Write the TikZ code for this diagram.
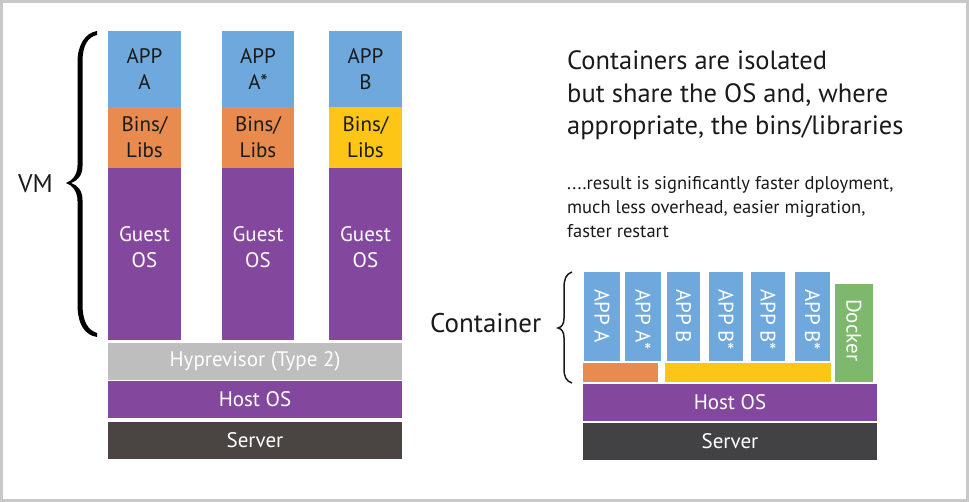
\documentclass[tikz,border=0pt]{standalone}
\usepackage{fontspec}
\setmainfont{PT Sans}
\definecolor{appblue}{HTML}{6FA8DC}
\definecolor{binorange}{HTML}{E98B4E}
\definecolor{binyellow}{HTML}{FDC616}
\definecolor{ospurple}{HTML}{83489D}
\definecolor{hypgray}{HTML}{BEBEBE}
\definecolor{srvleft}{HTML}{4A4542}
\definecolor{srvright}{HTML}{424144}
\definecolor{dockgreen}{HTML}{7DB86C}
\definecolor{framegray}{HTML}{C8C8C8}
\definecolor{inkdark}{HTML}{1A1A1A}
\begin{document}
\begin{tikzpicture}[x=1pt,y=-1pt,
  box/.style={anchor=north west, inner sep=0pt, outer sep=0pt, align=center},
  lbl/.style={font=\fontsize{21}{26}\selectfont, align=center, inner sep=0pt},
  rlbl/.style={font=\fontsize{21}{24}\selectfont, inner sep=0pt, rotate=-90},
  bigtxt/.style={font=\fontsize{26.5}{33}\selectfont, anchor=base west, inner sep=0pt, text=inkdark},
  smalltxt/.style={font=\fontsize{18.5}{24}\selectfont, anchor=base west, inner sep=0pt, text=inkdark},
]
\useasboundingbox (0,0) rectangle (969,502);
\fill[white] (0,0) rectangle (969,502);
\draw[line width=3pt, framegray] (1.5,1.5) rectangle (967.5,500.5);

% ---------- left: VM stack ----------
\node[box, fill=appblue, minimum width=73pt, minimum height=76pt] (appA) at (108,31) {};
\node[box, fill=appblue, minimum width=72pt, minimum height=76pt] (appAs) at (222,31) {};
\node[box, fill=appblue, minimum width=73pt, minimum height=76pt] (appB) at (329,31) {};
\node[lbl, text=inkdark] (tappA) at (appA.center) {APP\\A};
\node[lbl, text=inkdark] (tappAs) at (appAs.center) {APP\\A*};
\node[lbl, text=inkdark] (tappB) at (appB.center) {APP\\B};

\node[box, fill=binorange, minimum width=73pt, minimum height=61pt] (binA) at (108,107) {};
\node[box, fill=binorange, minimum width=72pt, minimum height=61pt] (binAs) at (222,107) {};
\node[box, fill=binyellow, minimum width=73pt, minimum height=61pt] (binB) at (329,107) {};
\node[lbl, text=inkdark] (tbinA) at (binA.center) {Bins/\\Libs};
\node[lbl, text=inkdark] (tbinAs) at (binAs.center) {Bins/\\Libs};
\node[lbl, text=inkdark] (tbinB) at (binB.center) {Bins/\\Libs};

\node[box, fill=ospurple, minimum width=73pt, minimum height=172pt] (gosA) at (108,168) {};
\node[box, fill=ospurple, minimum width=72pt, minimum height=172pt] (gosAs) at (222,168) {};
\node[box, fill=ospurple, minimum width=73pt, minimum height=172pt] (gosB) at (329,168) {};
\node[lbl, text=white, yshift=7pt] (tgosA) at (gosA.center) {Guest\\OS};
\node[lbl, text=white, yshift=7pt] (tgosAs) at (gosAs.center) {Guest\\OS};
\node[lbl, text=white, yshift=7pt] (tgosB) at (gosB.center) {Guest\\OS};

\node[box, fill=hypgray, minimum width=294pt, minimum height=37pt] (hyp) at (108,343) {};
\node[lbl, text=white] (thyp) at (hyp.center) {Hyprevisor (Type 2)};
\node[box, fill=ospurple, minimum width=294pt, minimum height=37pt] (hostL) at (108,381) {};
\node[lbl, text=white] (thostL) at (hostL.center) {Host OS};
\node[box, fill=srvleft, minimum width=294pt, minimum height=37pt] (srvL) at (108,422) {};
\node[lbl, text=white] (tsrvL) at (srvL.center) {Server};

% VM brace
\fill[black] (97,31) .. controls (85,33) and (77.5,45) .. (77.5,62)
  -- (77.5,165) .. controls (77.5,175) and (72,181) .. (66,183)
  .. controls (72,185) and (77.5,191) .. (77.5,201)
  -- (77.5,304) .. controls (77.5,325) and (85,335) .. (97,337)
  -- (97,333) .. controls (88,330) and (82.5,322) .. (82.5,304)
  -- (82.5,200) .. controls (82.5,190) and (77,185) .. (71,183)
  .. controls (77,181) and (82.5,176) .. (82.5,166)
  -- (82.5,62) .. controls (82.5,45) and (88,37) .. (97,35) -- cycle;
\node[font=\fontsize{25.5}{28}\selectfont, anchor=base west, inner sep=0pt, text=inkdark] (vm) at (18,193) {VM};

% ---------- right: containers ----------
\node[bigtxt] (h1) at (567,70) {Containers are isolated};
\node[bigtxt] (h2) at (567,102.5) {but share the OS and, where};
\node[bigtxt] (h3) at (567,135) {appropriate, the bins/libraries};
\node[smalltxt] (s1) at (567,190) {....result is significantly faster dployment,};
\node[smalltxt] (s2) at (567,214) {much less overhead, easier migration,};
\node[smalltxt] (s3) at (567,238) {faster restart};

\node[box, fill=appblue, minimum width=36pt, minimum height=89pt] (cA) at (584,272) {};
\node[box, fill=appblue, minimum width=36pt, minimum height=89pt] (cAs) at (625,272) {};
\node[box, fill=appblue, minimum width=33pt, minimum height=89pt] (cB) at (667,272) {};
\node[box, fill=appblue, minimum width=34pt, minimum height=89pt] (cB1) at (709,272) {};
\node[box, fill=appblue, minimum width=34pt, minimum height=89pt] (cB2) at (751,272) {};
\node[box, fill=appblue, minimum width=35pt, minimum height=89pt] (cB3) at (795,272) {};
\node[box, fill=dockgreen, minimum width=38pt, minimum height=98pt] (dock) at (835,284) {};
\node[rlbl, text=white, anchor=base west] (tcA) at ([xshift=-7.5pt,yshift=-17pt]cA.north) {APP A};
\node[rlbl, text=white, anchor=base west] (tcAs) at ([xshift=-7.5pt,yshift=-17pt]cAs.north) {APP A*};
\node[rlbl, text=white, anchor=base west] (tcB) at ([xshift=-7.5pt,yshift=-17pt]cB.north) {APP B};
\node[rlbl, text=white, anchor=base west] (tcB1) at ([xshift=-7.5pt,yshift=-17pt]cB1.north) {APP B*};
\node[rlbl, text=white, anchor=base west] (tcB2) at ([xshift=-7.5pt,yshift=-17pt]cB2.north) {APP B*};
\node[rlbl, text=white, anchor=base west] (tcB3) at ([xshift=-7.5pt,yshift=-17pt]cB3.north) {APP B*};
\node[rlbl, text=white, anchor=base west] (tdock) at ([xshift=-7.5pt,yshift=-15pt]dock.north) {Docker};

\node[box, fill=binorange, minimum width=75pt, minimum height=19pt] (cbinA) at (583,363) {};
\node[box, fill=binyellow, minimum width=166pt, minimum height=19pt] (cbinB) at (665,363) {};
\node[box, fill=ospurple, minimum width=294pt, minimum height=37pt] (hostR) at (583,384) {};
\node[lbl, text=white] (thostR) at (hostR.center) {Host OS};
\node[box, fill=srvright, minimum width=294pt, minimum height=37pt] (srvR) at (583,423) {};
\node[lbl, text=white] (tsrvR) at (srvR.center) {Server};

% container brace
\draw[line width=1.5pt, inkdark] (572,272) .. controls (566,274) and (564,279) .. (564,288)
  -- (564,318) .. controls (564,324) and (562,327) .. (558,328)
  .. controls (562,329) and (564,332) .. (564,338)
  -- (564,368) .. controls (564,377) and (566,381) .. (572,383);
\node[font=\fontsize{27}{30}\selectfont, anchor=base west, inner sep=0pt, text=inkdark] (cont) at (430,333) {Container};
\end{tikzpicture}
\end{document}
